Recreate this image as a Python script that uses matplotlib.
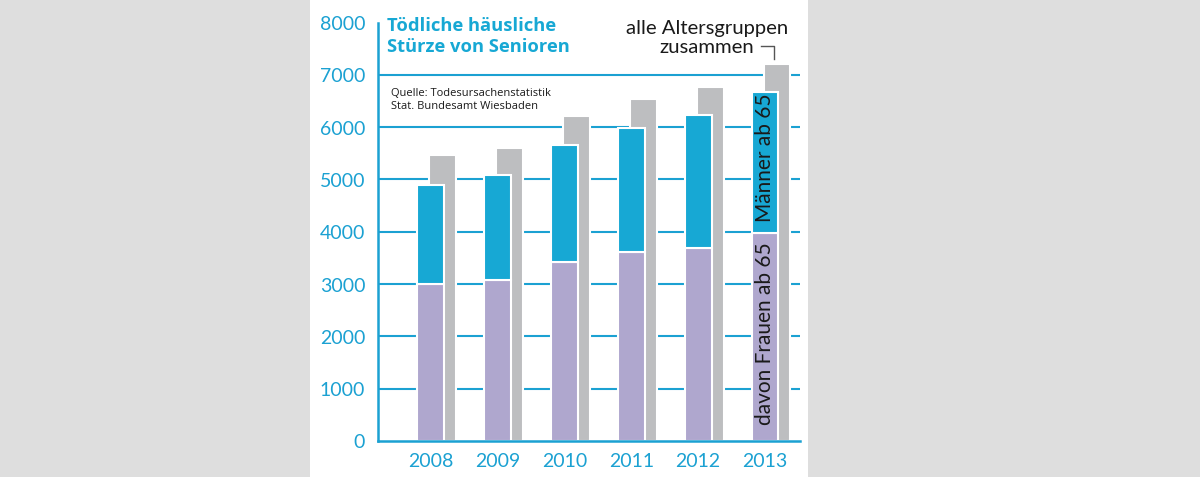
import matplotlib.pyplot as plt
from matplotlib.patches import Rectangle
import numpy as np

# Daten
years = ["2008", "2009", "2010", "2011", "2012", "2013"]
frauen = [3000, 3070, 3420, 3610, 3690, 3970]
maenner = [1890, 2020, 2245, 2380, 2550, 2710]
alle = [5460, 5600, 6220, 6530, 6770, 7210]
yticks = [0, 1000, 2000, 3000, 4000, 5000, 6000, 7000, 8000]

BLUE = "#17a8d4"
AXBLUE = "#1ba1d2"
PURPLE = "#afa7ce"
GRAY = "#bdbec0"

plt.rcParams["font.family"] = ["Lato", "DejaVu Sans"]

fig = plt.figure(figsize=(12, 4.775), dpi=100)
fig.patch.set_facecolor("#dedede")
fig.patches.append(Rectangle((310 / 1200, 0), 498 / 1200, 1, transform=fig.transFigure,
                             facecolor="white", edgecolor="none", zorder=-5))

ax = fig.add_axes([377.7 / 1200, 36 / 477, 422.3 / 1200, 418 / 477])
ax.set_facecolor("none")

x = np.arange(len(years))
w = 0.40
off = 0.18

# Gitterlinien
for v in yticks[1:-1]:
    ax.axhline(v, color=AXBLUE, lw=1.5, zorder=1)

ax.bar(x + off, alle, width=w, color=GRAY, edgecolor="white", linewidth=1.5, zorder=2)
ax.bar(x, frauen, width=w, color=PURPLE, edgecolor="white", linewidth=1.5, zorder=3)
ax.bar(x, maenner, bottom=frauen, width=w, color=BLUE, edgecolor="white", linewidth=1.5, zorder=3)

ax.set_xlim(-0.788, 5.522)
ax.set_ylim(0, 8000)
ax.set_yticks(yticks)
ax.set_xticks(x)
ax.set_xticklabels(years)
ax.tick_params(axis="both", length=0, colors=AXBLUE, labelsize=14)
ax.tick_params(axis="y", pad=9)
ax.tick_params(axis="x", pad=8)

for s in ["top", "right"]:
    ax.spines[s].set_visible(False)
for s in ["left", "bottom"]:
    ax.spines[s].set_color(AXBLUE)
    ax.spines[s].set_linewidth(1.8)
    ax.spines[s].set_zorder(4)

# Texte
ax.text(0.022, 1.015, "Tödliche häusliche\nStürze von Senioren", transform=ax.transAxes,
        ha="left", va="top", color=BLUE, fontsize=13.2, fontweight="bold",
        family=["Open Sans", "DejaVu Sans"], linespacing=1.22)
ax.text(0.032, 0.845, "Quelle: Todesursachenstatistik\nStat. Bundesamt Wiesbaden",
        transform=ax.transAxes, ha="left", va="top", color="#1a1a1a", fontsize=8,
        family=["Open Sans", "DejaVu Sans"], linespacing=1.3)
ax.text(4.13, 8060, "alle Altersgruppen\nzusammen", ha="center", va="top",
        color="#1a1a1a", fontsize=14.6, linespacing=1.15)

# Klammer zum grauen Balken
ax.plot([4.943, 5.127, 5.127], [7547, 7547, 7311], color="#555555", lw=1,
        clip_on=False, zorder=5)

ax.text(5, frauen[-1] + maenner[-1] / 2 + 100, "Männer ab 65", rotation=90, ha="center",
        va="center", color="#1a1a1a", fontsize=15, zorder=6)
ax.text(5, frauen[-1] / 2 + 80, "davon Frauen ab 65", rotation=90, ha="center",
        va="center", color="#1a1a1a", fontsize=15, zorder=6)

plt.savefig("out.png", dpi=100, facecolor=fig.get_facecolor())
